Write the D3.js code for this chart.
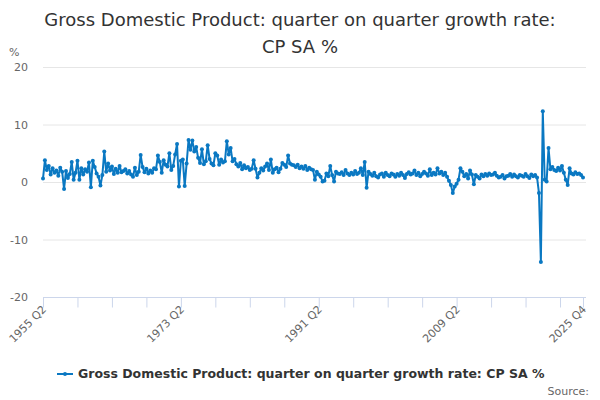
<!DOCTYPE html>
<html><head><meta charset="utf-8">
<script src="https://cdn.jsdelivr.net/npm/d3@7/dist/d3.min.js"></script>
<style>body{margin:0;background:#fff}svg{display:block;font-family:"DejaVu Sans",sans-serif}</style>
</head><body><svg id="c" width="600" height="400"></svg>
<script>
const startYear = 1955, startQuarter = 2;
const values = [
0.6,3.8,2.1,
2.8,1.3,2.4,1.6, 2.0,1.1,2.5,1.8, -1.2,1.9,0.7,1.4, 3.5,0.4,1.6,3.7,
0.4,2.4,1.3,2.2, 1.8,3.4,-0.9,3.7, 2.6,1.5,0.9,-0.6, 1.2,5.3,1.8,3.2,
2.0,2.7,1.4,2.3, 1.6,2.8,1.7,1.9, 2.2,1.5,1.9,1.3, 0.9,2.5,1.2,1.8,
4.7,2.6,1.7,2.3, 1.5,2.0,1.6,2.4, 2.2,4.6,3.5,1.6, 3.8,3.0,2.7,5.0,
2.1,2.8,4.8,6.6, -0.8,3.7,3.9,-0.7, 3.2,7.3,5.6,7.2, 5.3,6.1,4.2,3.3,
5.7,3.1,3.6,6.4, 4.0,3.2,2.9,5.0, 4.6,3.0,3.9,3.4, 3.6,7.1,4.8,5.9,
3.6,4.0,3.1,2.7, 3.3,2.2,2.9,2.4, 2.6,2.1,2.3,3.8, 2.3,0.8,1.6,2.4,
2.0,2.7,3.2,2.1, 3.9,1.6,2.2,2.5, 1.7,2.3,3.3,3.0, 2.6,4.6,3.2,3.0,
2.9,2.6,3.0,2.4, 2.7,2.3,2.8,2.1, 2.5,2.2,2.1,0.4, 1.8,1.3,0.9,0.1,
0.2,1.5,1.0,2.8, 1.2,0.1,1.8,1.5, 1.4,1.7,1.2,2.1, 1.5,1.2,1.6,1.3,
1.9,1.4,1.6,2.4, 1.2,3.5,-1.0,1.8, 1.4,1.1,1.6,1.0, 0.8,1.3,1.5,0.9,
1.6,1.2,1.0,1.5, 1.3,0.9,1.4,1.1, 1.6,1.2,0.7,1.4, 1.7,1.3,1.5,2.0,
1.2,1.6,1.0,1.4, 1.8,1.5,1.1,2.2, 1.2,1.6,1.3,2.4, 1.5,1.8,1.2,1.6,
0.9,0.2,-0.5,-1.9, -0.8,-0.3,0.4,2.4, 1.8,1.0,1.4,0.6, 2.0,1.3,-0.4,1.2,
0.9,0.6,1.3,1.0, 1.4,1.1,1.5,1.2, 1.3,1.6,1.1,0.8, 0.9,1.2,0.6,1.0,
1.1,1.4,0.9,1.3, 1.0,0.8,1.2,1.1, 0.9,1.4,1.0,0.7, 1.3,1.0,1.2,0.8,
-1.9,-13.9,12.3,0.4, 0.1,5.9,2.2,2.6, 2.1,1.9,2.5,2.0, 2.8,1.6,0.4,-0.5,
2.4,1.5,1.3,1.7, 1.4,1.5,1.2,0.8
];
const labels = values.map((v,i)=>{const q=startQuarter-1+i;return (startYear+Math.floor(q/4))+" Q"+(q%4+1);});
const yTicks = [20,10,0,-10,-20];
const tickEvery = 18, labelEvery = 72;
const titleLines = ["Gross Domestic Product: quarter on quarter growth rate:","CP SA %"];
const seriesName = "Gross Domestic Product: quarter on quarter growth rate: CP SA %";
const color = "#0a78c2";

const svg = d3.select("#c");
const L=43,R=583,T=67,B=297;
const x = d3.scaleLinear().domain([0,values.length-1]).range([L,R]);
const y = d3.scaleLinear().domain([-20,20]).range([B,T]);

// title
const tl = svg.append("g");
titleLines.forEach((t,k)=>{
  tl.append("text").attr("x",300).attr("y",k?53:26).attr("text-anchor","middle")
    .attr("fill","#333").style("font-size","18px").text(t);
});
// grid
svg.append("g").selectAll("line").data(yTicks.filter(d=>d!==-20)).join("line")
  .attr("x1",L).attr("x2",R+3).attr("y1",d=>y(d)+0.5).attr("y2",d=>y(d)+0.5)
  .attr("stroke","#e6e6e6");
svg.append("g").selectAll("text").data(yTicks).join("text")
  .attr("x",28).attr("y",d=>y(d)+4).attr("text-anchor","end").attr("fill","#666")
  .style("font-size","11px").text(d=>d);
svg.append("text").attr("x",9).attr("y",56).attr("fill","#666").style("font-size","11px").text("%");

// x axis
const tickIdx = d3.range(0,values.length,tickEvery);
if (tickIdx[tickIdx.length-1]!==values.length-1) tickIdx.push(values.length-1);
const labIdx = tickIdx.filter(i=>i%labelEvery===0 || i===values.length-1);
const ax = d3.axisBottom(x).tickValues(tickIdx).tickSize(10).tickFormat("");
const gx = svg.append("g").attr("transform",`translate(0,${B+0.5})`).call(ax);
gx.select(".domain").attr("stroke","#ccd6eb").attr("d",`M${L},0H${R+3}`);
gx.selectAll(".tick line").attr("stroke","#ccd6eb");
svg.append("g").selectAll("text").data(labIdx).join("text")
  .attr("transform",i=>`translate(${x(i)+4},${B+13}) rotate(-45)`)
  .attr("text-anchor","end").attr("fill","#666").style("font-size","11px")
  .text(i=>labels[i]);

// line
const line = d3.line().x((d,i)=>x(i)).y(d=>y(d));
svg.append("path").datum(values).attr("d",line).attr("fill","none")
  .attr("stroke",color).attr("stroke-width",2).attr("stroke-linejoin","round");
svg.append("g").selectAll("circle").data(values).join("circle")
  .attr("cx",(d,i)=>x(i)).attr("cy",d=>y(d)).attr("r",2).attr("fill",color);

// legend
const lg = svg.append("g");
lg.append("line").attr("x1",57).attr("x2",73).attr("y1",374).attr("y2",374).attr("stroke",color).attr("stroke-width",2);
lg.append("circle").attr("cx",65).attr("cy",374).attr("r",2).attr("fill",color);
lg.append("text").attr("x",78).attr("y",378).attr("fill","#333").style("font-size","12.5px")
  .style("font-weight","bold").text(seriesName);
svg.append("text").attr("x",589).attr("y",395).attr("text-anchor","end").attr("fill","#666")
  .style("font-size","11px").text("Source:");
</script></body></html>
